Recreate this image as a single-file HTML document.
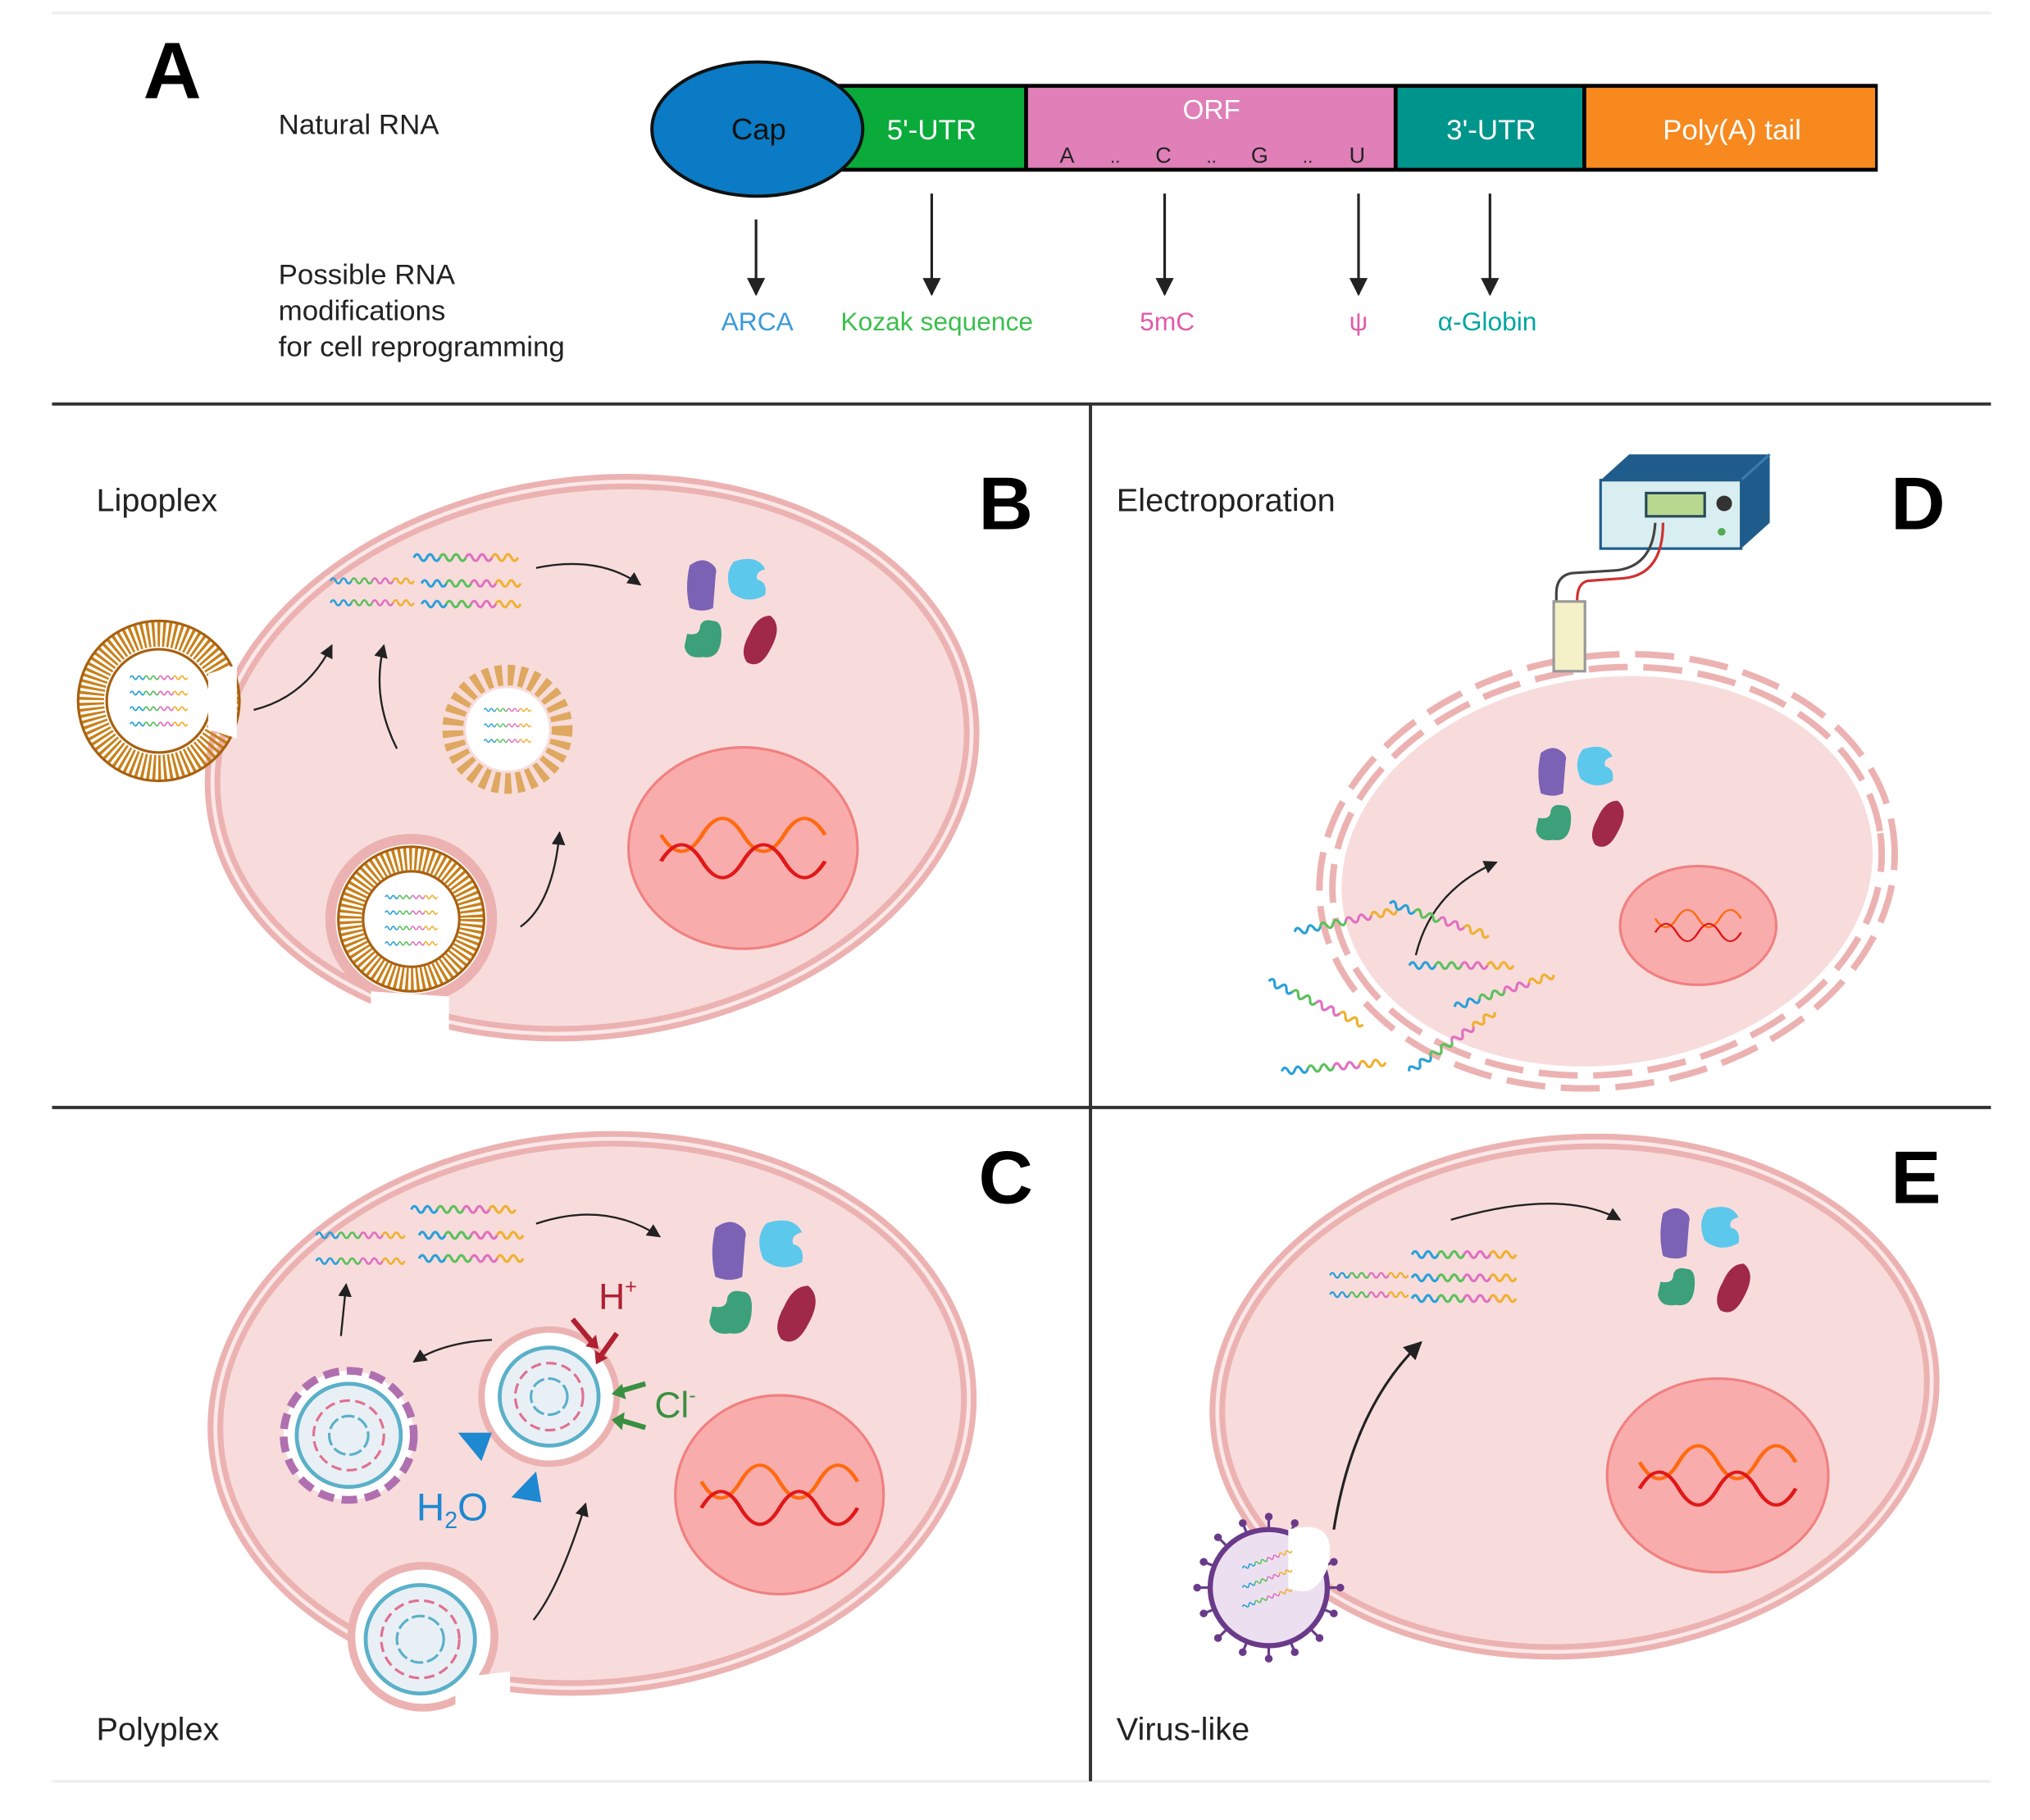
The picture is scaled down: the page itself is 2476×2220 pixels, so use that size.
<!DOCTYPE html>
<html><head><meta charset="utf-8"><style>
html,body{margin:0;padding:0;background:#fff;}
svg{display:block;}
text{font-family:"Liberation Sans",sans-serif;}
</style></head><body>
<svg width="2476" height="2220" viewBox="0 0 1560 1410" preserveAspectRatio="none" xmlns="http://www.w3.org/2000/svg">
<defs>
<marker id="ah" viewBox="0 0 10 10" refX="9" refY="5" markerWidth="7" markerHeight="7" orient="auto"><path d="M0,0 L10,5 L0,10 z" fill="#222"/></marker>
<g id="sq">
<path d="M0,0 q2.5,-5 5,0 t5,0 t5,0 t5,0" fill="none" stroke="#2aa0d8" stroke-width="2"/>
<path d="M20,0 q2.5,-5 5,0 t5,0 t5,0 t5,0" fill="none" stroke="#5cc05c" stroke-width="2"/>
<path d="M40,0 q2.5,-5 5,0 t5,0 t5,0 t5,0" fill="none" stroke="#e070c0" stroke-width="2"/>
<path d="M60,0 q2.5,-5 5,0 t5,0 t5,0 t5,0" fill="none" stroke="#f0b030" stroke-width="2"/>
</g>
<g id="prot">
<path d="M-22,-25 q8,-6 14,-3 q8,4 6,10 l-2,26 q-8,4 -18,0 q-4,-16 0,-33z" fill="#7b62b5"/>
<path d="M12,-28 q18,-6 24,6 q-8,2 -6,8 q8,2 6,12 q-14,8 -26,-2 q-6,-14 2,-24z" fill="#5cc8ec"/>
<path d="M-4,18 q8,0 6,16 q-2,14 -14,12 q-12,2 -14,-8 l2,-10 q10,2 10,-6 q2,-6 10,-4z" fill="#3ca07a"/>
<path d="M40,14 q10,8 0,26 q-8,16 -18,10 q-6,-8 2,-22 q6,-14 16,-14z" fill="#a02848"/>
</g>
<g id="dna">
<path d="M-60,-12 q15,30 30,0 t30,0 t30,0 t30,0" fill="none" stroke="#ff6a10" stroke-width="3"/>
<path d="M-60,12 q15,-30 30,0 t30,0 t30,0 t30,0" fill="none" stroke="#e01818" stroke-width="3"/>
</g>
</defs>
<rect width="1560" height="1410" fill="#fff"/>
<line x1="40" y1="10" x2="1530" y2="10" stroke="#eee" stroke-width="2"/>
<line x1="40" y1="1380" x2="1530" y2="1380" stroke="#eee" stroke-width="2"/>
<line x1="40" y1="313" x2="1530" y2="313" stroke="#333" stroke-width="2.5"/>
<line x1="40" y1="858" x2="1530" y2="858" stroke="#333" stroke-width="2.5"/>
<line x1="838" y1="313" x2="838" y2="1380" stroke="#333" stroke-width="2.5"/>

<!-- Panel A -->
<text x="110" y="76" font-size="62" font-weight="bold" fill="#000">A</text>
<text x="214" y="104" font-size="22" fill="#222">Natural RNA</text>
<rect x="640" y="65" width="803" height="68" fill="#000"/>
<rect x="645" y="68" width="142" height="62" fill="#0aab3a"/>
<rect x="790" y="68" width="281" height="62" fill="#e07fb8"/>
<rect x="1074" y="68" width="142" height="62" fill="#00958c"/>
<rect x="1219" y="68" width="222" height="62" fill="#f7891f"/>
<ellipse cx="582" cy="100" rx="81" ry="52" fill="#0a7bc4" stroke="#111" stroke-width="2.5"/>
<text x="583" y="108" font-size="23" text-anchor="middle" fill="#111">Cap</text>
<text x="716" y="108" font-size="22" text-anchor="middle" fill="#fff">5'-UTR</text>
<text x="931" y="92" font-size="21" text-anchor="middle" fill="#fff">ORF</text>
<text x="820" y="126" font-size="17" text-anchor="middle" fill="#222">A</text>
<text x="857" y="126" font-size="14" text-anchor="middle" fill="#222">..</text>
<text x="894" y="126" font-size="17" text-anchor="middle" fill="#222">C</text>
<text x="931" y="126" font-size="14" text-anchor="middle" fill="#222">..</text>
<text x="968" y="126" font-size="17" text-anchor="middle" fill="#222">G</text>
<text x="1005" y="126" font-size="14" text-anchor="middle" fill="#222">..</text>
<text x="1043" y="126" font-size="17" text-anchor="middle" fill="#222">U</text>
<text x="1146" y="108" font-size="22" text-anchor="middle" fill="#fff">3'-UTR</text>
<text x="1331" y="108" font-size="22" text-anchor="middle" fill="#fff">Poly(A) tail</text>
<g stroke="#222" stroke-width="2" marker-end="url(#ah)">
<line x1="581" y1="170" x2="581" y2="228"/>
<line x1="716" y1="150" x2="716" y2="228"/>
<line x1="895" y1="150" x2="895" y2="228"/>
<line x1="1044" y1="150" x2="1044" y2="228"/>
<line x1="1145" y1="150" x2="1145" y2="228"/>
</g>
<text x="214" y="220" font-size="22" fill="#222">Possible RNA</text>
<text x="214" y="248" font-size="22" fill="#222">modifications</text>
<text x="214" y="276" font-size="22" fill="#222">for cell reprogramming</text>
<text x="582" y="256" font-size="20" text-anchor="middle" fill="#3b9ad8">ARCA</text>
<text x="720" y="256" font-size="20" text-anchor="middle" fill="#3cbf4d">Kozak sequence</text>
<text x="897" y="256" font-size="20" text-anchor="middle" fill="#e05ca8">5mC</text>
<text x="1044" y="256" font-size="20" text-anchor="middle" fill="#e05ca8">ψ</text>
<text x="1143" y="256" font-size="20" text-anchor="middle" fill="#00a6a0">α-Globin</text>

<!-- Panel B -->
<text x="74" y="396" font-size="25" fill="#222">Lipoplex</text>
<text x="752" y="410" font-size="58" font-weight="bold" fill="#000">B</text>
<ellipse cx="455" cy="587" rx="293" ry="212" transform="rotate(-8 455 587)" fill="#f8dcdc" stroke="#ecb2b2" stroke-width="12"/>
<ellipse cx="455" cy="587" rx="293" ry="212" transform="rotate(-8 455 587)" fill="none" stroke="#fbe8e8" stroke-width="3"/>
<ellipse cx="571" cy="657" rx="88" ry="78" fill="#f9acac" stroke="#f08080" stroke-width="2"/>
<use href="#dna" transform="translate(571,657) scale(1.05,0.85)"/>
<circle cx="122" cy="543" r="52" fill="none" stroke="#c8801a" stroke-width="20" stroke-dasharray="2 2"/>
<circle cx="122" cy="543" r="62" fill="none" stroke="#a86010" stroke-width="2"/>
<circle cx="122" cy="543" r="40" fill="#fff" stroke="#a86010" stroke-width="2"/>
<path d="M160,522 L182,515 L182,572 L160,565 z" fill="#fff"/>
<use href="#sq" transform="translate(100,525) scale(0.55)"/>
<use href="#sq" transform="translate(100,537) scale(0.55)"/>
<use href="#sq" transform="translate(100,549) scale(0.55)"/>
<use href="#sq" transform="translate(100,561) scale(0.55)"/>
<circle cx="316" cy="712" r="62" fill="#fff" stroke="#ecb2b2" stroke-width="8"/>
<path d="M285,768 L345,772 L345,805 L285,800 z" fill="#fff"/>
<circle cx="316" cy="712" r="47" fill="none" stroke="#c8801a" stroke-width="18" stroke-dasharray="2 2"/>
<circle cx="316" cy="712" r="56" fill="none" stroke="#a86010" stroke-width="2"/>
<circle cx="316" cy="712" r="37" fill="#fff" stroke="#a86010" stroke-width="2"/>
<use href="#sq" transform="translate(296,695) scale(0.5)"/>
<use href="#sq" transform="translate(296,707) scale(0.5)"/>
<use href="#sq" transform="translate(296,719) scale(0.5)"/>
<use href="#sq" transform="translate(296,731) scale(0.5)"/>
<circle cx="390" cy="565" r="42" fill="none" stroke="#dfa860" stroke-width="16" stroke-dasharray="5 4"/>
<circle cx="390" cy="565" r="32" fill="#fff"/>
<use href="#sq" transform="translate(372,550) scale(0.45)"/>
<use href="#sq" transform="translate(372,562) scale(0.45)"/>
<use href="#sq" transform="translate(372,574) scale(0.45)"/>
<use href="#sq" transform="translate(318,432) scale(1)"/>
<use href="#sq" transform="translate(254,450) scale(0.8)"/>
<use href="#sq" transform="translate(324,452) scale(0.95)"/>
<use href="#sq" transform="translate(254,467) scale(0.8)"/>
<use href="#sq" transform="translate(324,468) scale(0.95)"/>
<g fill="none" stroke="#222" stroke-width="1.5" marker-end="url(#ah)">
<path d="M412,440 Q460,430 492,453"/>
<path d="M195,550 Q235,540 255,500"/>
<path d="M305,580 Q285,540 295,500"/>
<path d="M400,718 Q425,700 430,645"/>
</g>
<use href="#prot" transform="translate(552,463)"/>

<!-- Panel D -->
<text x="858" y="396" font-size="25" fill="#222">Electroporation</text>
<text x="1453" y="410" font-size="58" font-weight="bold" fill="#000">D</text>
<ellipse cx="1235" cy="675" rx="205" ry="150" transform="rotate(-8 1235 675)" fill="#f8dcdc"/>
<ellipse cx="1235" cy="675" rx="212" ry="157" transform="rotate(-8 1235 675)" fill="none" stroke="#ecb2b2" stroke-width="5" stroke-dasharray="30 12"/>
<ellipse cx="1235" cy="675" rx="222" ry="167" transform="rotate(-8 1235 675)" fill="none" stroke="#ecb2b2" stroke-width="5" stroke-dasharray="30 12"/>
<ellipse cx="1305" cy="717" rx="60" ry="46" fill="#f9acac" stroke="#f08080" stroke-width="2"/>
<use href="#dna" transform="translate(1305,717) scale(0.55,0.45)"/>
<use href="#prot" transform="translate(1205,607) scale(0.95)"/>
<path d="M1088,740 Q1100,690 1150,668" fill="none" stroke="#222" stroke-width="1.5" marker-end="url(#ah)"/>
<use href="#sq" transform="translate(995,722) rotate(-12)"/>
<use href="#sq" transform="translate(1068,700) rotate(18)"/>
<use href="#sq" transform="translate(1083,748)"/>
<use href="#sq" transform="translate(975,760) rotate(25)"/>
<use href="#sq" transform="translate(1118,780) rotate(-18)"/>
<use href="#sq" transform="translate(985,830) rotate(-5)"/>
<use href="#sq" transform="translate(1083,830) rotate(-35)"/>
<path d="M1230,372 L1252,352 L1360,352 L1360,405 L1338,425 Z" fill="#1f5c8c"/>
<path d="M1230,372 L1338,372 L1360,352" fill="none" stroke="#3a7cb0" stroke-width="2"/>
<rect x="1230" y="372" width="108" height="53" fill="#d8eef0" stroke="#1f5c8c" stroke-width="2"/>
<rect x="1265" y="382" width="45" height="18" fill="#b8d890" stroke="#2a4a5a" stroke-width="2"/>
<circle cx="1325" cy="390" r="6" fill="#333"/>
<circle cx="1323" cy="412" r="3" fill="#5a5"/>
<path d="M1272,405 Q1270,440 1240,442 L1208,444 Q1196,446 1196,460 L1196,490" fill="none" stroke="#444" stroke-width="2"/>
<path d="M1278,405 Q1278,445 1248,448 L1220,450 Q1212,452 1212,465 L1212,490" fill="none" stroke="#d03030" stroke-width="2"/>
<rect x="1194" y="466" width="24" height="54" fill="#f4f0c8" stroke="#999" stroke-width="2"/>

<!-- Panel C -->
<text x="74" y="1348" font-size="25" fill="#222">Polyplex</text>
<text x="752" y="932" font-size="58" font-weight="bold" fill="#000">C</text>
<ellipse cx="455" cy="1095" rx="290" ry="212" transform="rotate(-5 455 1095)" fill="#f8dcdc" stroke="#ecb2b2" stroke-width="12"/>
<ellipse cx="455" cy="1095" rx="290" ry="212" transform="rotate(-5 455 1095)" fill="none" stroke="#fbe8e8" stroke-width="3"/>
<ellipse cx="599" cy="1158" rx="80" ry="77" fill="#f9acac" stroke="#f08080" stroke-width="2"/>
<use href="#dna" transform="translate(599,1158) scale(1,0.85)"/>
<circle cx="325" cy="1268" r="55" fill="#fff" stroke="#ecb2b2" stroke-width="6"/>
<path d="M350,1300 L392,1295 L392,1330 L350,1330 z" fill="#fff"/>
<circle cx="323" cy="1270" r="42" fill="#e8f0f6" stroke="#5ab0c8" stroke-width="3"/>
<circle cx="323" cy="1270" r="30" fill="none" stroke="#e07090" stroke-width="2" stroke-dasharray="8 4"/>
<circle cx="323" cy="1270" r="18" fill="none" stroke="#5ab0c8" stroke-width="2" stroke-dasharray="10 3"/>
<circle cx="268" cy="1112" r="50" fill="#fff" stroke="#b070b0" stroke-width="6" stroke-dasharray="12 6"/>
<circle cx="268" cy="1112" r="40" fill="#e8f0f6" stroke="#5ab0c8" stroke-width="3"/>
<circle cx="268" cy="1112" r="27" fill="none" stroke="#e07090" stroke-width="2" stroke-dasharray="8 4"/>
<circle cx="268" cy="1112" r="15" fill="none" stroke="#5ab0c8" stroke-width="2" stroke-dasharray="10 3"/>
<circle cx="422" cy="1082" r="52" fill="#fff" stroke="#ecb2b2" stroke-width="5"/>
<circle cx="422" cy="1082" r="38" fill="#e8f0f6" stroke="#5ab0c8" stroke-width="3"/>
<circle cx="422" cy="1082" r="26" fill="none" stroke="#e07090" stroke-width="2" stroke-dasharray="8 4"/>
<circle cx="422" cy="1082" r="14" fill="none" stroke="#5ab0c8" stroke-width="2" stroke-dasharray="10 3"/>
<use href="#sq" transform="translate(316,937)"/>
<use href="#sq" transform="translate(243,957) scale(0.85)"/>
<use href="#sq" transform="translate(322,957)"/>
<use href="#sq" transform="translate(243,977) scale(0.85)"/>
<use href="#sq" transform="translate(322,975)"/>
<g fill="none" stroke="#222" stroke-width="1.5" marker-end="url(#ah)">
<path d="M412,948 Q465,930 507,958"/>
<path d="M262,1035 L266,995"/>
<path d="M378,1038 Q340,1040 318,1055"/>
<path d="M410,1255 Q430,1230 450,1165"/>
</g>
<use href="#prot" transform="translate(575,980) scale(1.15)"/>
<g stroke-width="4">
<line x1="440" y1="1022" x2="455" y2="1040" stroke="#b02030"/><path d="M450,1043 L460,1045 L458,1034z" fill="#b02030"/>
<line x1="474" y1="1033" x2="462" y2="1050" stroke="#b02030"/><path d="M457,1046 L458,1057 L467,1052z" fill="#b02030"/>
<line x1="496" y1="1072" x2="476" y2="1078" stroke="#3a9040"/><path d="M478,1072 L470,1080 L481,1084z" fill="#3a9040"/>
<line x1="496" y1="1106" x2="476" y2="1100" stroke="#3a9040"/><path d="M480,1094 L470,1100 L478,1108z" fill="#3a9040"/>
</g>
<path d="M352,1110 L378,1110 L370,1132z" fill="#1e88d0"/>
<path d="M393,1160 L412,1140 L416,1164z" fill="#1e88d0"/>
<text x="460" y="1014" font-size="28" fill="#b02030">H<tspan font-size="16" dy="-12">+</tspan></text>
<text x="503" y="1098" font-size="28" fill="#3a9040">Cl<tspan font-size="16" dy="-12">-</tspan></text>
<text x="320" y="1178" font-size="30" fill="#1e88d0">H<tspan font-size="18" dy="6">2</tspan><tspan dy="-6">O</tspan></text>

<!-- Panel E -->
<text x="858" y="1348" font-size="25" fill="#222">Virus-like</text>
<text x="1453" y="932" font-size="58" font-weight="bold" fill="#000">E</text>
<ellipse cx="1210" cy="1082" rx="275" ry="197" transform="rotate(-5 1210 1082)" fill="#f8dcdc" stroke="#ecb2b2" stroke-width="12"/>
<ellipse cx="1210" cy="1082" rx="275" ry="197" transform="rotate(-5 1210 1082)" fill="none" stroke="#fbe8e8" stroke-width="3"/>
<ellipse cx="1320" cy="1143" rx="85" ry="75" fill="#f9acac" stroke="#f08080" stroke-width="2"/>
<use href="#dna" transform="translate(1320,1143) scale(1,0.85)"/>
<use href="#sq" transform="translate(1085,972)"/>
<use href="#sq" transform="translate(1022,988) scale(0.75)"/>
<use href="#sq" transform="translate(1085,990)"/>
<use href="#sq" transform="translate(1022,1003) scale(0.75)"/>
<use href="#sq" transform="translate(1085,1006)"/>
<g fill="none" stroke="#222" stroke-width="1.5" marker-end="url(#ah)">
<path d="M1115,945 Q1200,920 1245,945"/>
<path d="M1025,1185 Q1040,1090 1092,1040" stroke-width="2"/>
</g>
<use href="#prot" transform="translate(1300,965)"/>
<g stroke="#6a3a8a" stroke-width="2">
<line x1="975" y1="1175" x2="975" y2="1285"/><line x1="920" y1="1230" x2="1030" y2="1230"/>
<line x1="936" y1="1191" x2="1014" y2="1269"/><line x1="936" y1="1269" x2="1014" y2="1191"/>
<line x1="955" y1="1180" x2="995" y2="1280"/><line x1="995" y1="1180" x2="955" y2="1280"/>
<line x1="925" y1="1210" x2="1025" y2="1250"/><line x1="925" y1="1250" x2="1025" y2="1210"/>
</g>
<g fill="#6a3a8a">
<circle cx="975" cy="1175" r="3"/><circle cx="975" cy="1285" r="3"/><circle cx="920" cy="1230" r="3"/><circle cx="1030" cy="1230" r="3"/>
<circle cx="936" cy="1191" r="3"/><circle cx="1014" cy="1269" r="3"/><circle cx="936" cy="1269" r="3"/><circle cx="1014" cy="1191" r="3"/>
<circle cx="955" cy="1180" r="3"/><circle cx="995" cy="1280" r="3"/><circle cx="995" cy="1180" r="3"/><circle cx="955" cy="1280" r="3"/>
<circle cx="925" cy="1210" r="3"/><circle cx="1025" cy="1250" r="3"/><circle cx="925" cy="1250" r="3"/><circle cx="1025" cy="1210" r="3"/>
</g>
<circle cx="975" cy="1230" r="45" fill="#ece0f0" stroke="#6a3a8a" stroke-width="4"/>
<path d="M990,1185 Q1030,1175 1020,1215 Q1010,1240 990,1230z" fill="#fff"/>
<use href="#sq" transform="translate(955,1215) scale(0.5) rotate(-20)"/>
<use href="#sq" transform="translate(955,1230) scale(0.5) rotate(-20)"/>
<use href="#sq" transform="translate(955,1245) scale(0.5) rotate(-20)"/>
</svg>
</body></html>
